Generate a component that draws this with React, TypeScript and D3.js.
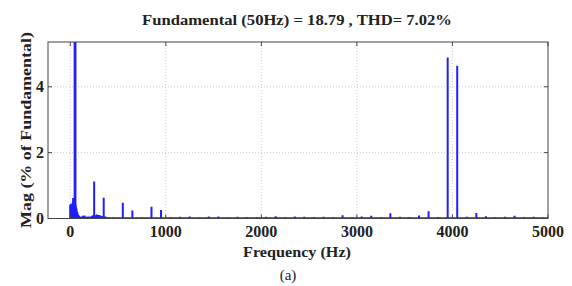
import React from "react";
import * as d3 from "d3";

// Harmonic spectrum (Hz, % of fundamental)
const freqHz = [
  0, 5, 10, 15, 20, 25, 30, 35, 40, 45, 50, 55, 60, 65, 70, 75, 80, 85, 90, 95, 100,
  110, 120, 130, 140, 150, 160, 170, 180, 190, 200, 210, 220, 230, 240, 250, 260, 270,
  280, 290, 300, 310, 320, 330, 340, 350, 360, 370, 380, 400, 420, 450, 500, 550, 600,
  650, 700, 750, 800, 850, 900, 950, 1050, 1150, 1250, 1350, 1450, 1550, 1650, 1750,
  1850, 1950, 2050, 2150, 2250, 2350, 2450, 2550, 2650, 2750, 2850, 2950, 3050, 3150,
  3250, 3350, 3450, 3550, 3650, 3750, 3850, 3950, 4050, 4150, 4250, 4350, 4450, 4550,
  4650, 4750, 4850, 4950,
];
const magPct = [
  0.4, 0.45, 0.38, 0.42, 0.35, 0.48, 0.62, 0.55, 0.4, 0.45, 100, 0.42, 0.35, 0.3, 0.22, 0.18, 0.12, 0.1, 0.08, 0.06, 0.05,
  0.04, 0.05, 0.08, 0.06, 0.09, 0.05, 0.04, 0.05, 0.06, 0.04, 0.05, 0.06, 0.08, 0.1, 1.12, 0.1, 0.09,
  0.12, 0.1, 0.11, 0.09, 0.08, 0.07, 0.06, 0.63, 0.06, 0.05, 0.04, 0.03, 0.02, 0.03, 0.02, 0.48, 0.02,
  0.24, 0.02, 0.03, 0.02, 0.36, 0.02, 0.26, 0.04, 0.05, 0.06, 0.03, 0.06, 0.06, 0.03, 0.05,
  0.04, 0.04, 0.05, 0.07, 0.04, 0.06, 0.05, 0.04, 0.05, 0.04, 0.1, 0.04, 0.06, 0.08,
  0.04, 0.16, 0.05, 0.04, 0.09, 0.22, 0.04, 4.89, 4.64, 0.05, 0.17, 0.07, 0.04, 0.05,
  0.08, 0.04, 0.05, 0.03,
];
const xTicks = [0, 1000, 2000, 3000, 4000, 5000];
const yTicks = [0, 2, 4];
const titleText = "Fundamental (50Hz) = 18.79 , THD= 7.02%";
const xLabel = "Frequency (Hz)";
const yLabel = "Mag (% of Fundamental)";
const caption = "(a)";

const W = 572;
const H = 286;
const L = 48, R = 548, T = 42, B = 218.5;

export default function App() {
  const x = d3.scaleLinear().domain([-233, 5000]).range([L, R]);
  const y = d3.scaleLinear().domain([0, 5.36]).range([B, T]);
  const font = "'Liberation Serif', 'Times New Roman', serif";
  const blue = "#1f1fff";
  return (
    <svg width={W} height={H} style={{ position: "absolute", left: 0, top: 0, background: "#fff" }}>
      <defs>
        <clipPath id="plot">
          <rect x={L} y={T} width={R - L} height={B - T} />
        </clipPath>
      </defs>
      <rect x={0} y={0} width={W} height={H} fill="#fff" />
      {/* grid */}
      {xTicks.filter((t) => t < 5000).map((t) => (
        <line key={"gx" + t} x1={x(t)} x2={x(t)} y1={T} y2={B} stroke="#bbb" strokeWidth={0.8} strokeDasharray="1,2" />
      ))}
      {yTicks.filter((t) => t > 0).map((t) => (
        <line key={"gy" + t} x1={L} x2={R} y1={y(t)} y2={y(t)} stroke="#bbb" strokeWidth={0.8} strokeDasharray="1,2" />
      ))}
      {/* bars */}
      <g clipPath="url(#plot)">
        {freqHz.map((f, i) => (
          <line key={"b" + i} x1={x(f)} x2={x(f)} y1={y(0)} y2={y(magPct[i])} stroke={blue} strokeWidth={f === 50 ? 2.8 : 2} />
        ))}
        <line x1={x(0)} x2={x(5000)} y1={y(0) - 0.5} y2={y(0) - 0.5} stroke={blue} strokeWidth={1.6} />
      </g>
      {/* box */}
      <rect x={L} y={T} width={R - L} height={B - T} fill="none" stroke="#444" strokeWidth={1} />
      {/* ticks */}
      {xTicks.map((t) => (
        <g key={"tx" + t}>
          <line x1={x(t)} x2={x(t)} y1={B} y2={B - 4} stroke="#444" />
          <line x1={x(t)} x2={x(t)} y1={T} y2={T + 4} stroke="#444" />
          <text x={x(t)} y={237} textAnchor="middle" fontFamily={font} fontWeight="bold" fontSize={16} fill="#222">
            {t}
          </text>
        </g>
      ))}
      {yTicks.map((t) => (
        <g key={"ty" + t}>
          <line x1={L} x2={L + 4} y1={y(t)} y2={y(t)} stroke="#444" />
          <line x1={R} x2={R - 4} y1={y(t)} y2={y(t)} stroke="#444" />
          <text x={44} y={y(t) + 5.5} textAnchor="end" fontFamily={font} fontWeight="bold" fontSize={16} fill="#222">
            {t}
          </text>
        </g>
      ))}
      <text x={297} y={25} textAnchor="middle" fontFamily={font} fontWeight="bold" fontSize={15.5} fill="#222" textLength={310} lengthAdjust="spacingAndGlyphs">
        {titleText}
      </text>
      <text x={297} y={257} textAnchor="middle" fontFamily={font} fontWeight="bold" fontSize={15.5} fill="#222" textLength={108} lengthAdjust="spacingAndGlyphs">
        {xLabel}
      </text>
      <text x={288} y={280} textAnchor="middle" fontFamily={font} fontSize={15} fill="#222">
        {caption}
      </text>
      <text transform={`translate(31,130) rotate(-90)`} textAnchor="middle" fontFamily={font} fontWeight="bold" fontSize={15.5} fill="#222" textLength={196} lengthAdjust="spacingAndGlyphs">
        {yLabel}
      </text>
    </svg>
  );
}
